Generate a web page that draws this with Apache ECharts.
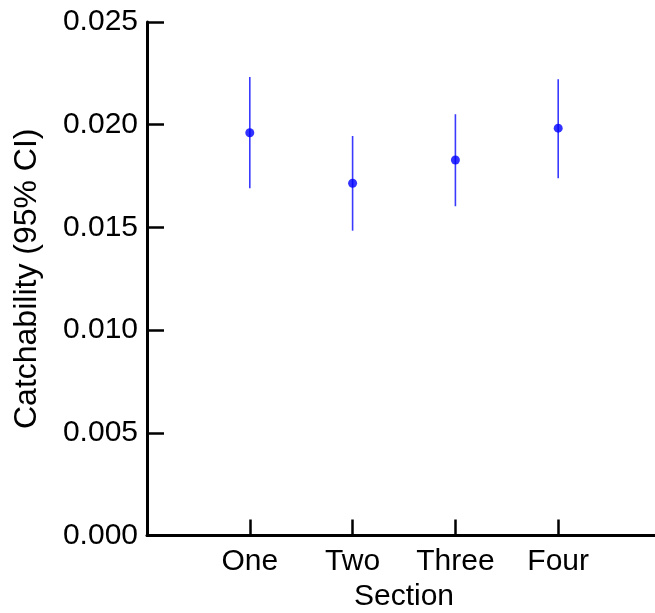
<!DOCTYPE html>
<html>
<head>
<meta charset="utf-8">
<script src="https://cdn.jsdelivr.net/npm/echarts@6/dist/echarts.min.js"></script>
<style>
html,body{margin:0;padding:0;background:#fff;}
#chart{width:655px;height:613px;}
</style>
</head>
<body>
<div id="chart"></div>
<script>
var categories = ['One', 'Two', 'Three', 'Four'];
var estimates = [0.01961, 0.01715, 0.01828, 0.01983];
var lowerCI = [0.01690, 0.01484, 0.01603, 0.01739];
var upperCI = [0.02232, 0.01945, 0.02051, 0.02221];
var yTicks = [0, 0.005, 0.010, 0.015, 0.020, 0.025];

var axisCats = [''].concat(categories).concat(['']);
var font = 'Liberation Sans, Arial, sans-serif';

var chart = echarts.init(document.getElementById('chart'), null, {renderer: 'canvas'});
chart.setOption({
  animation: false,
  backgroundColor: '#ffffff',
  grid: {left: 147, right: -6, top: 22, bottom: 77.5, containLabel: false, outerBoundsMode: 'none'},
  xAxis: {
    type: 'category',
    data: axisCats,
    boundaryGap: false,
    name: 'Section',
    nameLocation: 'middle',
    nameGap: 44,
    nameTextStyle: {fontFamily: font, fontSize: 30, color: '#000'},
    axisLine: {lineStyle: {color: '#000', width: 3}},
    axisTick: {inside: true, length: 16, lineStyle: {color: '#000', width: 2.5}},
    axisLabel: {fontFamily: font, fontSize: 30, color: '#000', margin: 11},
    splitLine: {show: false}
  },
  yAxis: {
    type: 'value',
    min: 0,
    max: 0.025,
    interval: 0.005,
    name: 'Catchability (95% CI)',
    nameLocation: 'middle',
    nameGap: 104,
    nameTextStyle: {fontFamily: font, fontSize: 32, color: '#000'},
    axisLine: {show: true, lineStyle: {color: '#000', width: 3}},
    axisTick: {show: true, inside: true, length: 17, lineStyle: {color: '#000', width: 2.5}},
    axisLabel: {
      fontFamily: font, fontSize: 30, color: '#000', margin: 9,
      formatter: function (v) {
        var t = yTicks.find(function (k) { return Math.abs(k - v) < 1e-9; });
        return (t !== undefined ? t : v).toFixed(3);
      }
    },
    splitLine: {show: false}
  },
  series: [
    {
      type: 'custom',
      renderItem: function (params, api) {
        var x = api.value(0);
        var lo = api.coord([x, api.value(1)]);
        var hi = api.coord([x, api.value(2)]);
        return {
          type: 'line',
          shape: {x1: lo[0], y1: lo[1], x2: hi[0], y2: hi[1]},
          style: {stroke: '#3a3aff', lineWidth: 1.6}
        };
      },
      data: categories.map(function (c, i) { return [c, lowerCI[i], upperCI[i]]; }),
      z: 2
    },
    {
      type: 'scatter',
      symbol: 'circle',
      symbolSize: 9,
      itemStyle: {color: '#0000ff'},
      data: categories.map(function (c, i) { return [c, estimates[i]]; }),
      z: 3
    }
  ]
});
</script>
</body>
</html>
